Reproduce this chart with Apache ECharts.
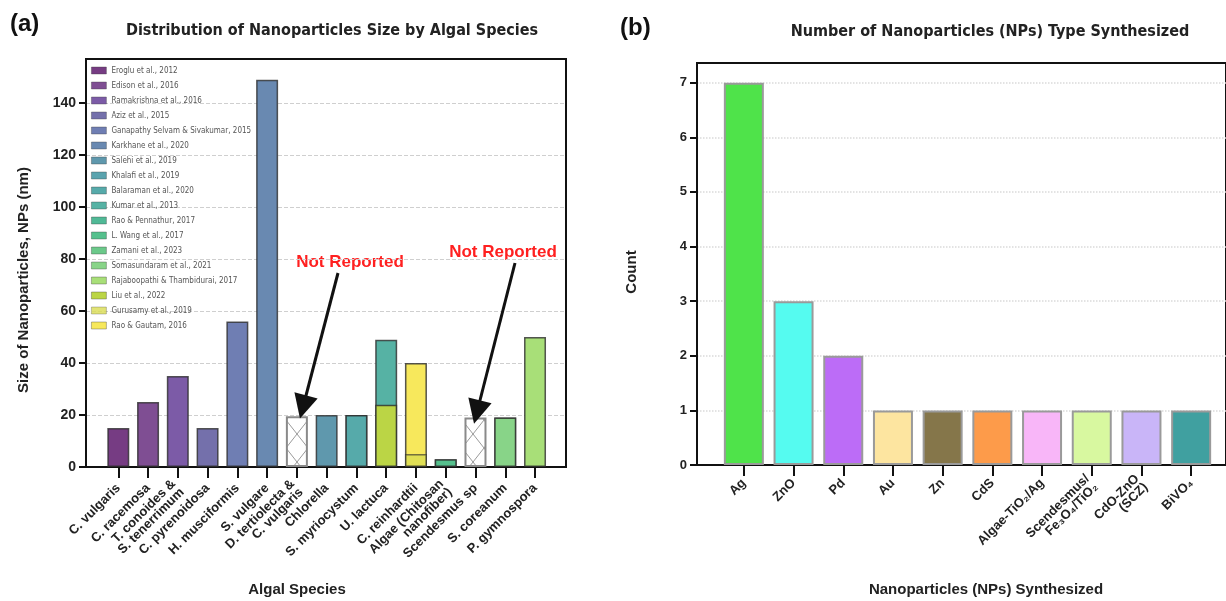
<!DOCTYPE html>
<html>
<head>
<meta charset="utf-8">
<script src="https://cdn.jsdelivr.net/npm/echarts@6/dist/echarts.min.js"></script>
<style>
html, body { margin: 0; padding: 0; background: #fff; }
#charts { width: 1226px; height: 601px; }
</style>
</head>
<body>
<div id="charts"></div>
<script>
// panel (a) data
var species = ['C. vulgaris', 'C. racemosa', 'T. conoides &\nS. tenerrimum', 'C. pyrenoidosa', 'H. musciformis',
    'S. vulgare', 'D. tertiolecta &\nC. vulgaris', 'Chlorella', 'S. myriocystum', 'U. lactuca', 'C. reinhardtii',
    'Algae (Chitosan\nnanofiber)', 'Scendesmus sp', 'S. coreanum', 'P. gymnospora'];
var refs = ['Eroglu et al., 2012', 'Edison et al., 2016', 'Ramakrishna et al., 2016', 'Aziz et al., 2015',
    'Ganapathy Selvam & Sivakumar, 2015', 'Karkhane et al., 2020', 'Salehi et al., 2019', 'Khalafi et al., 2019',
    'Balaraman et al., 2020', 'Kumar et al., 2013', 'Rao & Pennathur, 2017', 'L. Wang et al., 2017',
    'Zamani et al., 2023', 'Somasundaram et al., 2021', 'Rajaboopathi & Thambidurai, 2017', 'Liu et al., 2022',
    'Gurusamy et al., 2019', 'Rao & Gautam, 2016'];
var refSpecies = [0, 1, 2, 3, 4, 5, 7, 8, 8, 9, 11, 11, 13, 13, 14, 9, 10, 10];
var refSize = [15, 25, 35, 15, 56, 149, 20, 20, 20, 49, 3, 3, 19, 19, 50, 24, 5, 40];
var notReportedSpecies = [6, 12];
var notReportedSize = [19.5, 19];
var sizeTicks = [0, 20, 40, 60, 80, 100, 120, 140];

// panel (b) data
var npTypes = ['Ag', 'ZnO', 'Pd', 'Au', 'Zn', 'CdS', 'Algae-TiO₂/Ag', 'Scendesmus/\nFe₃O₄/TiO₂', 'CdO-ZnO\n(SCZ)', 'BiVO₄'];
var npCounts = [7, 3, 2, 1, 1, 1, 1, 1, 1, 1];
var countTicks = [0, 1, 2, 3, 4, 5, 6, 7];

// colours
var refColors = ['#763c83', '#7f4e93', '#7c5ba7', '#7470ab', '#6f7eb3', '#6989b1', '#5f98ad', '#5aa3ae',
    '#56aaaa', '#56b2a4', '#50b996', '#55c08d', '#6bc98a', '#88d488', '#a8df78', '#bbd545', '#d9dc52', '#f7e85c'];
var npColors = ['#4fe34a', '#55fbf0', '#bc6cf7', '#fde5a0', '#85764a', '#fd9b4a', '#f8b6f8', '#d8f8a0', '#c9b5f8', '#40a0a0'];

var SANS = '"Liberation Sans", Arial, sans-serif';
var NARROW = '"Liberation Sans Narrow", "DejaVu Sans Condensed", "Liberation Sans", sans-serif';

var myChart = null;

function hatch() {
    var c = document.createElement('canvas');
    c.width = 22; c.height = 28;
    var g = c.getContext('2d');
    g.fillStyle = '#fff';
    g.fillRect(0, 0, 22, 28);
    g.strokeStyle = '#9a9a9a';
    g.lineWidth = 1;
    g.beginPath();
    g.moveTo(0, 0); g.lineTo(22, 28);
    g.moveTo(22, 0); g.lineTo(0, 28);
    g.stroke();
    return c;
}

function blank(n) {
    var a = [];
    for (var i = 0; i < n; i++) a.push('-');
    return a;
}

function buildOption() {
    var series = refs.map(function (name, k) {
        var data = blank(species.length);
        data[refSpecies[k]] = refSize[k];
        return {
            name: name, type: 'bar', xAxisIndex: 1, yAxisIndex: 1,
            barWidth: 22, barGap: '-100%',
            itemStyle: { color: refColors[k], borderColor: 'rgba(45,45,45,0.8)', borderWidth: 1.5 },
            emphasis: { disabled: true },
            data: data
        };
    });
    // Gurusamy sits in front of the yellow bar
    series[16].z = 3;
    series[16].itemStyle.opacity = 0.8;

    var nr = blank(species.length);
    notReportedSpecies.forEach(function (s, i) { nr[s] = notReportedSize[i]; });
    series.push({
        name: 'Not Reported', type: 'bar', xAxisIndex: 1, yAxisIndex: 1,
        barWidth: 22, barGap: '-100%',
        itemStyle: { color: { image: hatch(), repeat: 'repeat' }, borderColor: '#8a8a8a', borderWidth: 2 },
        emphasis: { disabled: true },
        data: nr,
        markLine: {
            silent: true,
            symbol: ['none', 'triangle'],
            symbolSize: 24,
            label: { show: false },
            lineStyle: { color: '#111', width: 3, type: 'solid' },
            data: [
                [{ x: 338, y: 273 }, { x: 303, y: 407 }],
                [{ x: 515, y: 263 }, { x: 477, y: 412 }]
            ]
        }
    });

    series.push({
        name: 'count', type: 'bar', xAxisIndex: 3, yAxisIndex: 3,
        barWidth: 40,
        itemStyle: { borderColor: '#9a9a9a', borderWidth: 2 },
        emphasis: { disabled: true },
        data: npCounts.map(function (v, i) {
            return { value: v, itemStyle: { color: npColors[i] } };
        })
    });

    var frame = { show: true, borderColor: '#111', borderWidth: 2, backgroundColor: 'transparent' };
    var baseLine = { show: true, lineStyle: { color: '#111', width: 2 } };
    // frame x axis: only the solid base line
    var frameX = function (gi) {
        return {
            type: 'value', gridIndex: gi, axisLine: baseLine,
            axisTick: { show: false }, axisLabel: { show: false }, splitLine: { show: false }
        };
    };

    return {
        animation: false,
        grid: [
            Object.assign({ left: 86, right: 660, top: 59, bottom: 134 }, frame),
            { left: 103.4, right: 676.1, top: 59, bottom: 134 },
            Object.assign({ left: 697, right: -20, top: 63, bottom: 136 }, frame),
            { left: 719, right: 10, top: 63, bottom: 136 }
        ],
        legend: {
            data: refs, orient: 'vertical', left: 91, top: 66, padding: 0,
            itemWidth: 15, itemHeight: 7, itemGap: 6, icon: 'rect', selectedMode: false,
            itemStyle: { borderWidth: 0.8, borderColor: 'rgba(60,60,60,0.45)' },
            textStyle: { fontSize: 8, lineHeight: 9, color: '#555', fontFamily: NARROW }
        },
        xAxis: [
            frameX(0),
            {
                type: 'category', gridIndex: 1, data: species,
                axisLine: baseLine,
                axisTick: { show: true, alignWithLabel: true, length: 11, lineStyle: { color: '#111', width: 2 } },
                axisLabel: { interval: 0, rotate: 45, margin: 19, fontSize: 13, fontWeight: 'bold', color: '#222', fontFamily: SANS, lineHeight: 12 }
            },
            frameX(2),
            {
                type: 'category', gridIndex: 3, data: npTypes,
                axisLine: baseLine,
                axisTick: { show: true, alignWithLabel: true, length: 11, lineStyle: { color: '#111', width: 2 } },
                axisLabel: { interval: 0, rotate: 45, margin: 16, fontSize: 13, fontWeight: 'bold', color: '#222', fontFamily: SANS, lineHeight: 12 }
            }
        ],
        yAxis: [
            {
                type: 'value', gridIndex: 0, min: 0, max: 157, interval: 20,
                axisLine: baseLine,
                axisTick: { show: true, length: 7, customValues: sizeTicks, lineStyle: { color: '#111', width: 2 } },
                axisLabel: { customValues: sizeTicks, fontSize: 14, fontWeight: 'bold', color: '#222', fontFamily: SANS, margin: 10 },
                splitLine: { show: true, lineStyle: { color: '#cfcfcf', type: 'dashed', width: 1 } }
            },
            { type: 'value', gridIndex: 1, min: 0, max: 157, show: false, splitLine: { show: false } },
            {
                type: 'value', gridIndex: 2, min: 0, max: 7.36, interval: 1,
                axisLine: baseLine,
                axisTick: { show: true, length: 7, customValues: countTicks, lineStyle: { color: '#111', width: 2 } },
                axisLabel: { customValues: countTicks, fontSize: 13, fontWeight: 'bold', color: '#222', fontFamily: SANS, margin: 10 },
                splitLine: { show: true, lineStyle: { color: '#dadada', type: 'dotted', width: 1.5 } }
            },
            { type: 'value', gridIndex: 3, min: 0, max: 7.36, show: false, splitLine: { show: false } }
        ],
        graphic: [
            { type: 'text', left: 10, top: 12, style: { text: '(a)', font: 'bold 24px ' + SANS, fill: '#111' } },
            { type: 'text', left: 620, top: 16, style: { text: '(b)', font: 'bold 24px ' + SANS, fill: '#111' } },
            { type: 'text', x: 332, y: 31, style: { text: 'Distribution of Nanoparticles Size by Algal Species', font: 'bold 16px ' + NARROW, fill: '#222', align: 'center', verticalAlign: 'middle' } },
            { type: 'text', x: 990, y: 32, style: { text: 'Number of Nanoparticles (NPs) Type Synthesized', font: 'bold 16px ' + NARROW, fill: '#222', align: 'center', verticalAlign: 'middle' } },
            { type: 'text', x: 24, y: 280, rotation: Math.PI / 2, style: { text: 'Size of Nanoparticles, NPs (nm)', font: 'bold 15px ' + SANS, fill: '#222', align: 'center', verticalAlign: 'middle' } },
            { type: 'text', x: 297, y: 590, style: { text: 'Algal Species', font: 'bold 15px ' + SANS, fill: '#222', align: 'center', verticalAlign: 'middle' } },
            { type: 'text', x: 632, y: 272, rotation: Math.PI / 2, style: { text: 'Count', font: 'bold 15px ' + SANS, fill: '#222', align: 'center', verticalAlign: 'middle' } },
            { type: 'text', x: 986, y: 590, style: { text: 'Nanoparticles (NPs) Synthesized', font: 'bold 15px ' + SANS, fill: '#222', align: 'center', verticalAlign: 'middle' } },
            { type: 'text', x: 350, y: 262, style: { text: 'Not Reported', font: 'bold 17px ' + SANS, fill: '#ff2020', align: 'center', verticalAlign: 'middle' } },
            { type: 'text', x: 503, y: 252, style: { text: 'Not Reported', font: 'bold 17px ' + SANS, fill: '#ff2020', align: 'center', verticalAlign: 'middle' } }
        ],
        series: series
    };
}

$ready = function () {
    myChart = echarts.init(document.getElementById('charts'));
    myChart.setOption(buildOption());
};
$ready();
</script>
</body>
</html>
